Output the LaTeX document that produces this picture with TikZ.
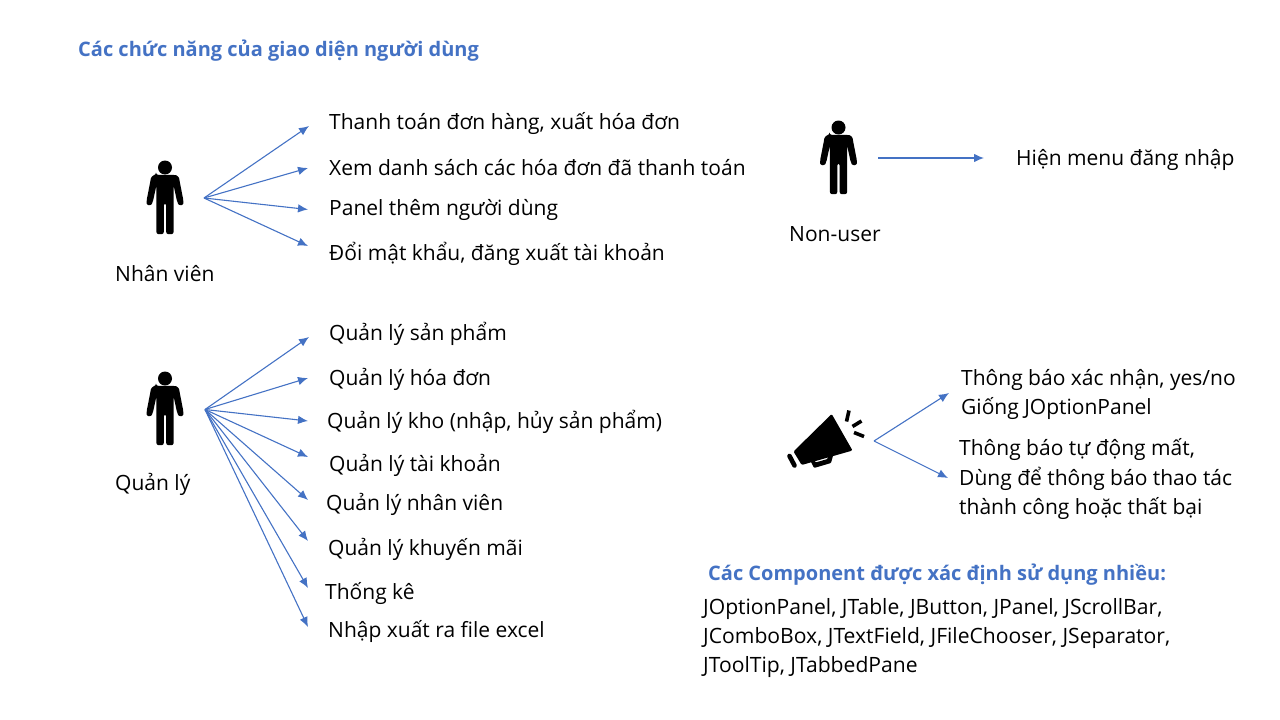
\documentclass[tikz,border=0pt]{standalone}
\usepackage{fontspec}
\setmainfont{Open Sans}
\definecolor{blu}{HTML}{4472C4}
\usetikzlibrary{arrows.meta}
\tikzset{
  lbl/.style={anchor=west,inner sep=0pt,yshift=-1.7pt,font=\fontsize{21}{27}\selectfont,text=black,align=left},
  ttl/.style={anchor=west,inner sep=0pt,yshift=-2pt,font=\fontsize{20}{27}\selectfont\bfseries,text=blu},
  arr/.style={draw=blu,line width=1.1pt,-{Latex[length=10pt,width=8.5pt]}},
  person/.pic={
    \fill[black] (0,0) circle (7);
    \fill[black,rounded corners=2.2pt] (-9,7.3) -- (9,7.3) .. controls (12.5,8) and (14,10) .. (14.5,13) -- (18.6,34) -- (18.3,37.5) -- (14,38) -- (12.3,35) -- (8.6,18) -- (8.6,66.7) -- (1.2,66.7) -- (1.2,36) -- (-1.2,36) -- (-1.2,66.7) -- (-8.6,66.7) -- (-8.6,18) -- (-12.3,35) -- (-14,38) -- (-18.3,37.5) -- (-18.6,34) -- (-14.5,13) .. controls (-14,10) and (-12.5,8) .. (-9,7.3) -- cycle;
  }
}
\begin{document}
\begin{tikzpicture}[x=1pt,y=-1pt]
\useasboundingbox (0,0) rectangle (1280,720);
\node[ttl] (title) at (78,49) {Các chức năng của giao diện người dùng};
% Nhan vien
\pic at (165,167.5) {person};
\node[lbl] (nv) at (115,271.5) {Nhân viên};
\coordinate (o1) at (204,198);
\node[lbl] (a1) at (329,122) {Thanh toán đơn hàng, xuất hóa đơn};
\node[lbl] (a2) at (329,165.5) {Xem danh sách các hóa đơn đã thanh toán};
\node[lbl] (a3) at (329,208) {Panel thêm người dùng};
\node[lbl] (a4) at (329,252) {Đổi mật khẩu, đăng xuất tài khoản};
\coordinate (e1) at (309,126);
\coordinate (e2) at (308,168);
\coordinate (e3) at (308,209.5);
\coordinate (e4) at (308,246);
\foreach \e in {e1,e2,e3,e4} \draw[arr] (o1) -- (\e);
% Quan ly
\pic at (165,378.5) {person};
\node[lbl] (ql) at (115,482.5) {Quản lý};
\coordinate (o2) at (205,409.5);
\node[lbl] (b1) at (329,332.5) {Quản lý sản phẩm};
\node[lbl] (b2) at (329,377.5) {Quản lý hóa đơn};
\node[lbl] (b3) at (327,420) {Quản lý kho (nhập, hủy sản phẩm)};
\node[lbl] (b4) at (329,463.5) {Quản lý tài khoản};
\node[lbl] (b5) at (326,502.5) {Quản lý nhân viên};
\node[lbl] (b6) at (328,547.5) {Quản lý khuyến mãi};
\node[lbl] (b7) at (325,592) {Thống kê};
\node[lbl] (b8) at (328,629.5) {Nhập xuất ra file excel};
\coordinate (f1) at (309,337);
\coordinate (f2) at (308,378);
\coordinate (f3) at (308,421);
\coordinate (f4) at (308,457);
\coordinate (f5) at (308,500);
\coordinate (f6) at (308,541);
\coordinate (f7) at (308,588);
\coordinate (f8) at (308,627);
\foreach \e in {f1,f2,f3,f4,f5,f6,f7,f8} \draw[arr] (o2) -- (\e);
% Non-user
\pic at (838.5,127.5) {person};
\node[lbl] (nu) at (789,232) {Non-user};
\node[lbl] (m) at (1016,158) {Hiện menu đăng nhập};
\coordinate (s3) at (878,158);
\coordinate (e3b) at (984,158);
\draw[arr] (s3) -- (e3b);
% Megaphone
\fill[black,rounded corners=1.2pt] (831.7,414) -- (852.5,450.5) -- (801.7,465) -- (793.5,451.5) -- cycle;
\fill[black,rounded corners=1pt] (810,460) -- (814,468) -- (831,463) -- (833.5,454) -- (829,454) -- (827.5,459) -- (815.5,462.5) -- (814,459) -- cycle;
\draw[black,line width=4.6pt,line cap=round] (789.5,456) -- (794.5,465.5);
\draw[black,line width=3.6pt] (849,410.5) -- (846.5,421.5);
\draw[black,line width=3.6pt] (861.5,421) -- (852.5,426.5);
\draw[black,line width=3.6pt] (864,436.5) -- (854,432.5);
\coordinate (o3) at (874,441);
\coordinate (g1) at (949,393);
\coordinate (g2) at (948,478);
\draw[arr] (o3) -- (g1);
\draw[arr] (o3) -- (g2);
\node[lbl,font=\fontsize{21}{29.5}\selectfont] (c1) at (961,393) {Thông báo xác nhận, yes/no\\Giống JOptionPanel};
\node[lbl,font=\fontsize{21}{29.5}\selectfont] (c2) at (959,477.5) {Thông báo tự động mất,\\Dùng để thông báo thao tác\\thành công hoặc thất bại};
\node[ttl] (t2) at (708,573) {Các Component được xác định sử dụng nhiều:};
\node[lbl,font=\fontsize{21.1}{29}\selectfont] (comp) at (703,636.5) {JOptionPanel, JTable, JButton, JPanel, JScrollBar,\\JComboBox, JTextField, JFileChooser, JSeparator,\\JToolTip, JTabbedPane};
\end{tikzpicture}
\end{document}
